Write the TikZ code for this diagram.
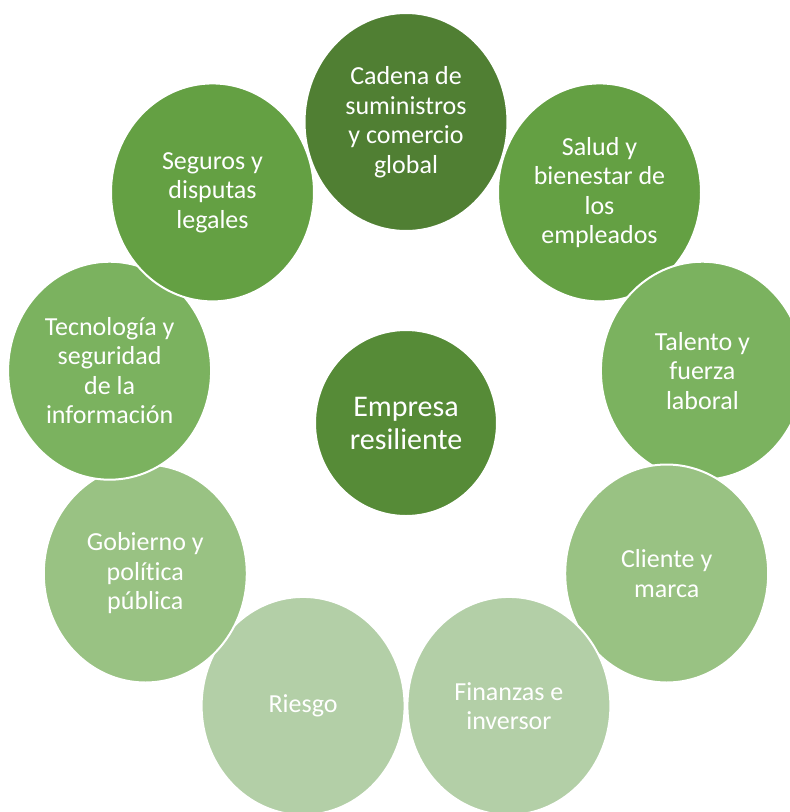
\documentclass[tikz,border=0pt]{standalone}
\usepackage{fontspec}
\setmainfont{Carlito}[Ligatures={NoCommon}]
\usetikzlibrary{shapes.geometric}
\definecolor{cA}{HTML}{507F33}
\definecolor{cB}{HTML}{64A043}
\definecolor{cC}{HTML}{7BB25F}
\definecolor{cD}{HTML}{99C283}
\definecolor{cE}{HTML}{B3CFA7}
\definecolor{cM}{HTML}{568B37}
\tikzset{
  bubble/.style={ellipse, draw=white, line width=2pt, minimum width=203pt, minimum height=218pt,
    inner sep=0pt, align=center, text=white, font=\fontsize{26}{29.5}\selectfont},
  hub/.style={ellipse, draw=white, line width=2pt, minimum width=182pt, minimum height=186pt,
    inner sep=0pt, align=center, text=white, font=\fontsize{30}{33}\selectfont}
}
\begin{document}
\begin{tikzpicture}[x=1pt,y=-1pt]
\useasboundingbox (0,0) rectangle (790,812);
\node[hub, fill=cM] (hub) at (406,423) {Empresa\\resiliente};
\node[bubble, fill=cA] (n1) at (406,122) {Cadena de\\suministros\\y comercio\\global};
\node[bubble, fill=cB] (n2) at (599.5,192.4) {Salud y\\bienestar de\\los\\empleados};
\node[bubble, fill=cC] (n3) at (702.4,370.7) {Talento y\\fuerza\\laboral};
\node[bubble, fill=cD] (n4) at (666.7,573.5) {Cliente y\\marca};
\node[bubble, fill=cE] (n5) at (508.9,705.9) {Finanzas e\\inversor};
\node[bubble, fill=cE] (n6) at (303.1,705.9) {Riesgo};
\node[bubble, fill=cD] (n7) at (145.3,573.5) {Gobierno y\\política\\pública};
\node[bubble, fill=cC] (n8) at (109.6,370.7) {Tecnología y\\seguridad\\de la\\información};
\node[bubble, fill=cB] (n9) at (212.5,192.4) {Seguros y\\disputas\\legales};
\end{tikzpicture}
\end{document}
